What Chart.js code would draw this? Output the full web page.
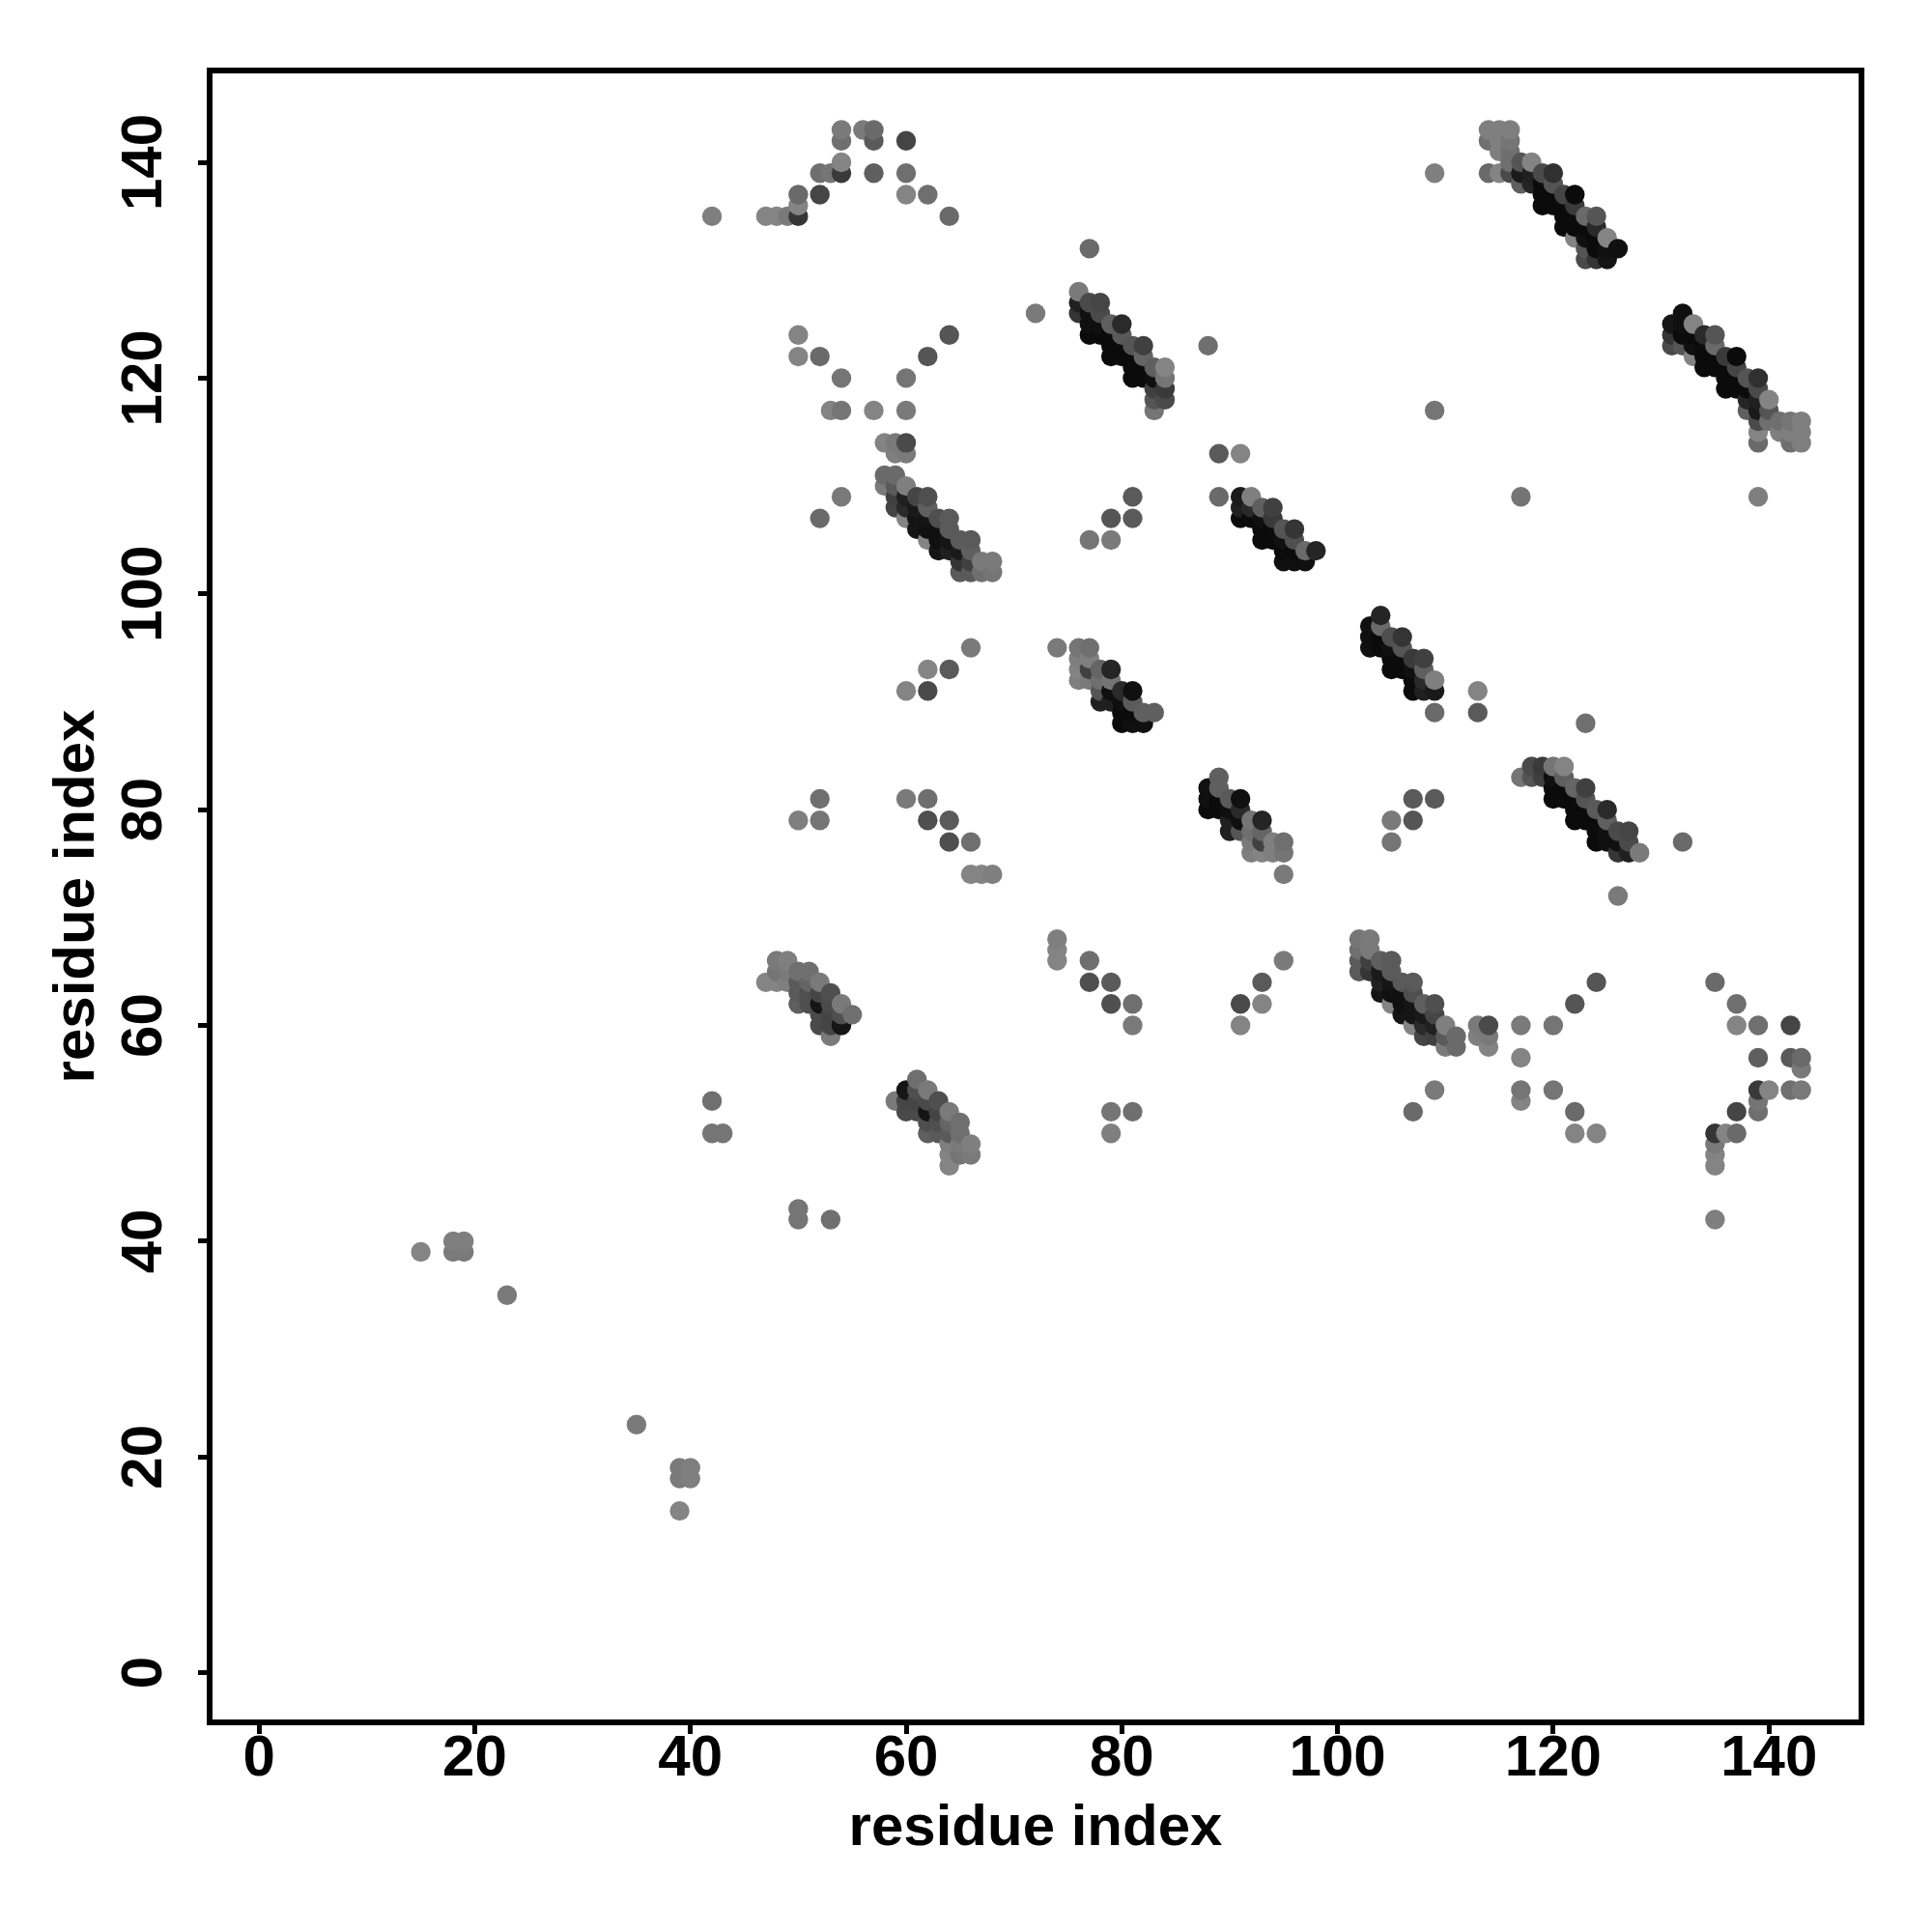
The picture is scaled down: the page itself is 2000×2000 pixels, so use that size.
<!DOCTYPE html>
<html>
<head>
<meta charset="utf-8">
<style>body{margin:0;background:#fff}</style>
<script src="https://cdn.jsdelivr.net/npm/chart.js@4"></script>
</head>
<body>
<canvas id="chart" width="2000" height="2000"></canvas>
<script>
// contact map, upper triangle only: [residue i, residue j, strength read from the grey level]
const tickValues = [0, 20, 40, 60, 80, 100, 120, 140];
const axisTitle = 'residue index';

const sparseFar = [[15,39,10],[18,40,15],[19,40,15],[18,39,20],[19,39,20],[23,35,20]];
const sparseTop = [
    [54,143,20],[56,143,20],[57,143,35],[54,142,30],[57,142,50],[60,142,70],[54,140,10],
    [52,139,30],[53,139,25],[54,139,80],[57,139,45],[60,139,30],[50,137,35],[52,137,70],
    [60,137,10],[62,137,30],[50,136,10],[42,135,15],[47,135,10],[48,135,10],[49,135,20],
    [50,135,85],[64,135,35],[109,139,15],[77,132,35]
];
const sparseMid = [
    [72,126,20],[88,123,30],[50,124,10],[64,124,55],[50,122,10],[52,122,35],[62,122,55],
    [54,120,25],[60,120,25],[53,117,10],[54,117,25],[57,117,10],[60,117,20],[109,117,25],
    [58,114,10],[59,114,20],[60,114,65],[59,113,15],[60,113,20],[89,113,50],[91,113,10],
    [54,109,20],[52,107,35],[81,109,50],[89,109,35],[79,107,55],[81,107,50],[77,105,25],[79,105,20]
];
const sparseLow = [
    [66,95,20],[64,93,50],[62,93,10],[62,91,65],[60,91,10],[74,95,20],
    [74,68,15],[74,67,10],[74,66,10],[77,66,30],[77,64,60],[79,64,50],[79,62,60],[81,62,30],[81,60,20],
    [52,81,30],[52,79,25],[50,79,15],[42,53,30],[42,50,25],[43,50,25]
];
const clusterA = [
    [114,143,15],[115,143,15],[116,143,15],[114,142,30],[115,142,15],[116,142,25],[115,141,15],[116,141,30],
    [116,140,30],[117,140,55],[118,140,10],[114,139,35],[115,139,10],[116,139,65],[117,139,110],[118,139,105],
    [119,139,65],[120,139,90],[117,138,45],[118,138,100],[119,138,125],[120,138,55],[119,137,125],[120,137,125],
    [121,137,70],[122,137,125],[119,136,125],[120,136,125],[121,136,125],[122,136,80],[121,135,125],[122,135,125],
    [123,135,35],[124,135,55],[121,134,125],[122,134,125],[123,134,125],[124,134,95],[122,133,10],[123,133,120],
    [124,133,125],[125,133,10],[123,132,55],[124,132,125],[125,132,120],[126,132,120],[123,131,65],[124,131,85],[125,131,115]
];
const clusterB = [
    [76,128,20],[76,127,105],[77,127,65],[78,127,70],[76,126,85],[77,126,120],[78,126,65],[77,125,120],[78,125,120],
    [79,125,45],[80,125,95],[77,124,125],[78,124,125],[79,124,125],[80,124,50],[79,123,125],[80,123,125],[81,123,55],
    [82,123,75],[79,122,125],[80,122,125],[81,122,125],[82,122,40],[81,121,125],[82,121,125],[83,121,45],[84,121,10],
    [81,120,125],[82,120,125],[83,120,120],[84,120,25],[83,119,75],[84,119,80],[83,118,55],[84,118,65],[83,117,25]
];
const clusterC = [
    [58,111,35],[59,111,35],[58,110,20],[59,110,50],[60,110,15],[59,109,75],[60,109,105],[61,109,70],[62,109,60],
    [59,108,70],[60,108,95],[61,108,110],[62,108,45],[60,107,10],[61,107,115],[62,107,115],[63,107,60],[64,107,50],
    [61,106,115],[62,106,120],[63,106,120],[64,106,50],[62,105,10],[63,105,120],[64,105,115],[65,105,50],[66,105,50],
    [63,104,115],[64,104,105],[65,104,110],[66,104,45],[65,103,85],[66,103,75],[67,103,20],[68,103,20],
    [65,102,50],[66,102,50],[67,102,30],[68,102,25]
];
const clusterD = [
    [91,109,110],[92,109,15],[91,108,105],[92,108,95],[93,108,45],[94,108,75],[91,107,125],[92,107,125],[93,107,120],
    [94,107,80],[93,106,125],[94,106,125],[95,106,55],[96,106,85],[93,105,125],[94,105,125],[95,105,120],[96,105,60],
    [95,104,125],[96,104,125],[97,104,35],[98,104,100],[95,103,120],[96,103,120],[97,103,120]
];
const clusterE = [
    [76,95,25],[77,95,30],[76,94,15],[77,94,15],[76,93,10],[77,93,75],[78,93,40],[79,93,100],[76,92,15],[77,92,20],
    [78,92,30],[79,92,25],[78,91,55],[79,91,120],[80,91,95],[81,91,120],[78,90,105],[79,90,105],[80,90,120],[81,90,50],
    [80,89,125],[81,89,125],[82,89,45],[83,89,45],[80,88,125],[81,88,120],[82,88,120]
];
const clusterF = [
    [48,66,20],[49,66,15],[48,65,25],[49,65,20],[50,65,30],[51,65,30],[47,64,10],[48,64,10],[49,64,15],[50,64,50],
    [51,64,40],[52,64,20],[50,63,50],[51,63,60],[52,63,70],[53,63,60],[50,62,45],[51,62,60],[52,62,115],[53,62,65],
    [54,62,20],[52,61,65],[53,61,70],[54,61,60],[55,61,30],[52,60,65],[53,60,70],[54,60,115],[53,59,20]
];

const upperContacts = [...sparseFar, ...sparseTop, ...sparseMid, ...sparseLow,
    ...clusterA, ...clusterB, ...clusterC, ...clusterD, ...clusterE, ...clusterF];

// the map is symmetric, and points were plotted column by column
const contacts = [...upperContacts, ...upperContacts.map(([i, j, s]) => [j, i, s])]
    .sort((a, b) => a[0] - b[0] || a[1] - b[1]);

const font = {family: '"Liberation Sans"', size: 60, weight: 'bold'};

function setTicks(scale) {
    scale.ticks = tickValues.map(v => ({value: v}));
}

function axis(extra) {
    return {
        type: 'linear',
        afterBuildTicks: setTicks,
        border: {display: false},
        grid: {drawOnChartArea: false, drawTicks: true, tickLength: 12, tickWidth: 5, color: '#000'},
        ...extra
    };
}

new Chart(document.getElementById('chart'), {
    type: 'scatter',
    data: {
        datasets: [{
            data: contacts.map(c => ({x: c[0], y: c[1]})),
            pointRadius: 10.2,
            pointBorderWidth: 0,
            pointHoverRadius: 10.2,
            pointBackgroundColor: contacts.map(c => {
                const g = Math.round(143 - 1.06 * c[2]);
                return `rgb(${g},${g},${g})`;
            })
        }]
    },
    options: {
        responsive: false,
        animation: false,
        events: [],
        layout: {padding: {top: 73, right: 73, left: 0, bottom: 0}},
        plugins: {legend: {display: false}, tooltip: {enabled: false}},
        scales: {
            x: axis({
                min: -4.58,
                max: 148.58,
                afterFit: scale => { scale.height = 217; },
                ticks: {color: '#000', font: font, padding: -10, maxRotation: 0, autoSkip: false, callback: v => String(v)},
                title: {display: true, text: axisTitle, color: '#000', font: font, padding: {top: 0, bottom: 71}}
            }),
            y: axis({
                min: -4.6,
                max: 148.51,
                afterFit: scale => { scale.width = 217; },
                ticks: {color: '#000', font: font, padding: 4, minRotation: 90, maxRotation: 90, crossAlign: 'center', autoSkip: false, callback: v => String(v)},
                title: {display: true, text: axisTitle, color: '#000', font: font, padding: {top: 44, bottom: 0}}
            })
        }
    },
    plugins: [{
        id: 'box',
        afterDraw: chart => {
            const {ctx, chartArea: a} = chart;
            ctx.save();
            ctx.strokeStyle = '#000';
            ctx.lineWidth = 6;
            ctx.strokeRect(a.left, a.top, a.right - a.left, a.bottom - a.top);
            ctx.restore();
        }
    }]
});
</script>
</body>
</html>
